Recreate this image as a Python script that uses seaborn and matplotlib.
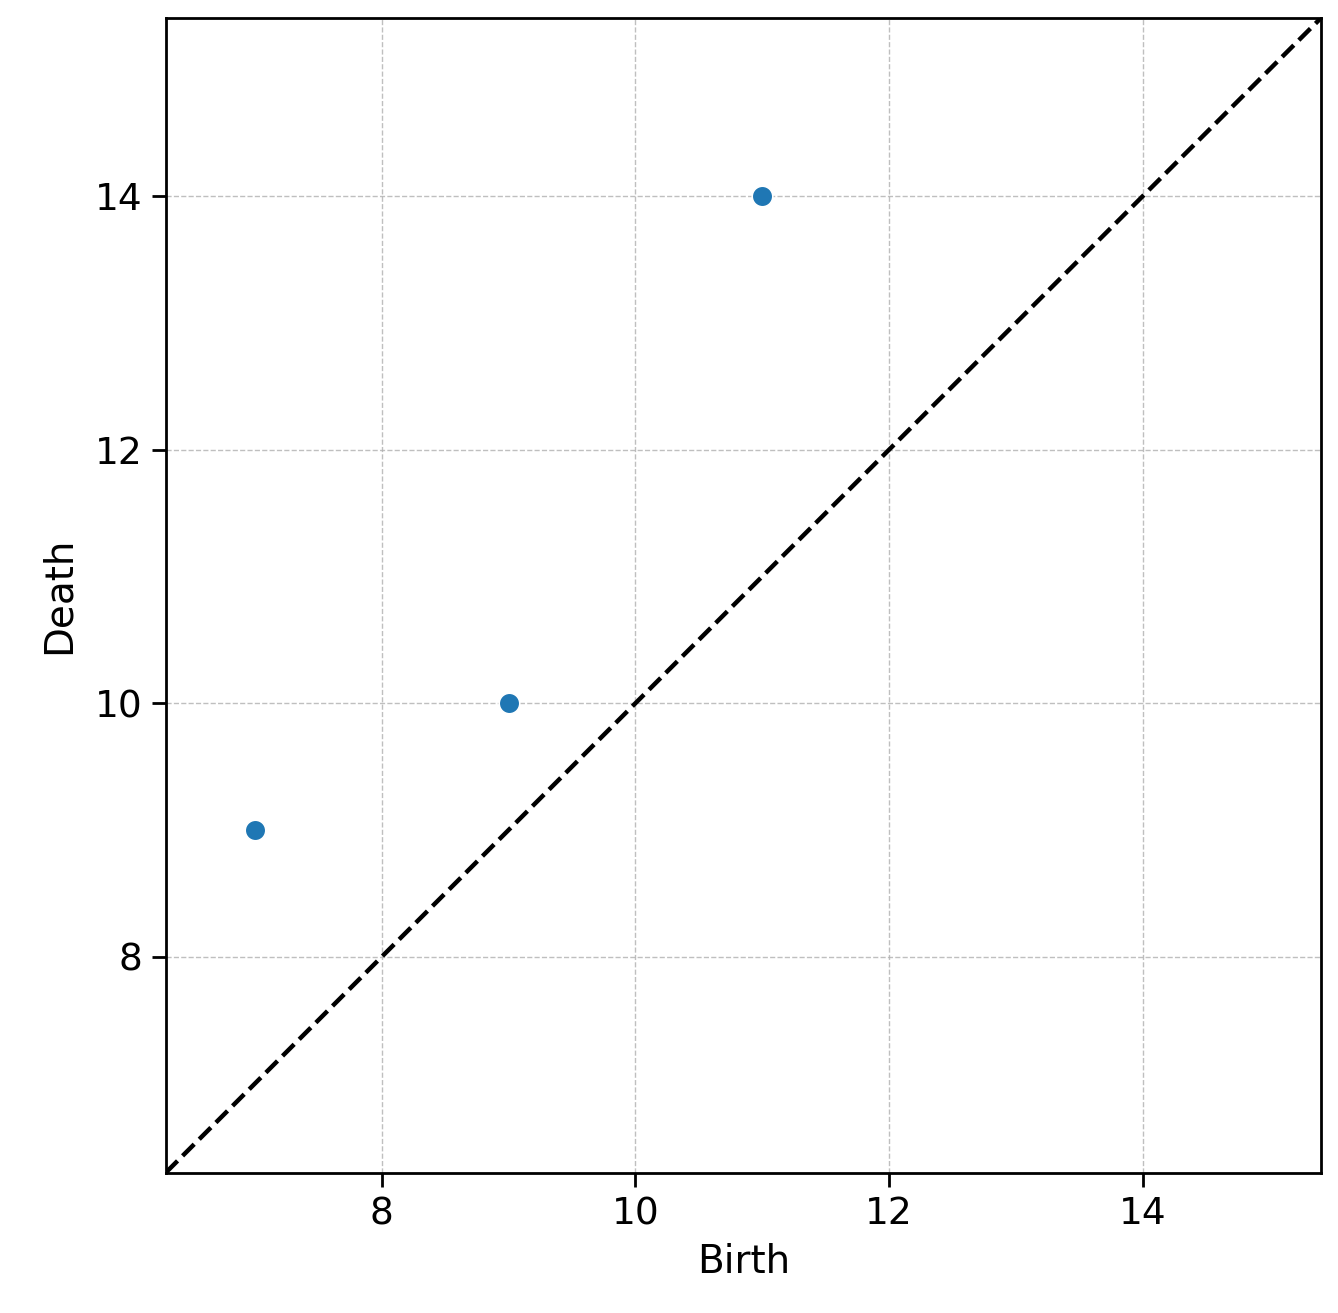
import matplotlib
matplotlib.use("Agg")
import matplotlib.pyplot as plt
import pandas as pd
import seaborn as sns

# persistence pairs
birth = [7, 9, 11]
death = [9, 10, 14]
lims = [6.3, 15.4]

df = pd.DataFrame({"Birth": birth, "Death": death})

sns.set_style("ticks")
plt.rcParams['font.family'] = ['DejaVu Sans']

fig = plt.figure(figsize=(6.69, 6.565), dpi=200)
ax = fig.add_axes([0.124, 0.107, 0.863, 0.879])
sns.scatterplot(data=df, x="Birth", y="Death", ax=ax, s=55, color="#1f77b4", zorder=3)
ax.plot(lims, lims, "k--", linewidth=1.6)
ax.set_xlim(lims)
ax.set_ylim(lims)
ax.set_xticks([8, 10, 12, 14])
ax.set_yticks([8, 10, 12, 14])
ax.grid(True, linestyle="--", linewidth=0.5, color="#b0b0b0", alpha=0.8)
ax.tick_params(labelsize=13.5, colors="black", length=5, width=1)
ax.set_xlabel("Birth", fontsize=14, color="black", labelpad=4)
ax.set_ylabel("Death", fontsize=14, color="black", labelpad=6)
for s in ax.spines.values():
    s.set_color("black")
    s.set_linewidth(1.0)

plt.savefig("out.png")
